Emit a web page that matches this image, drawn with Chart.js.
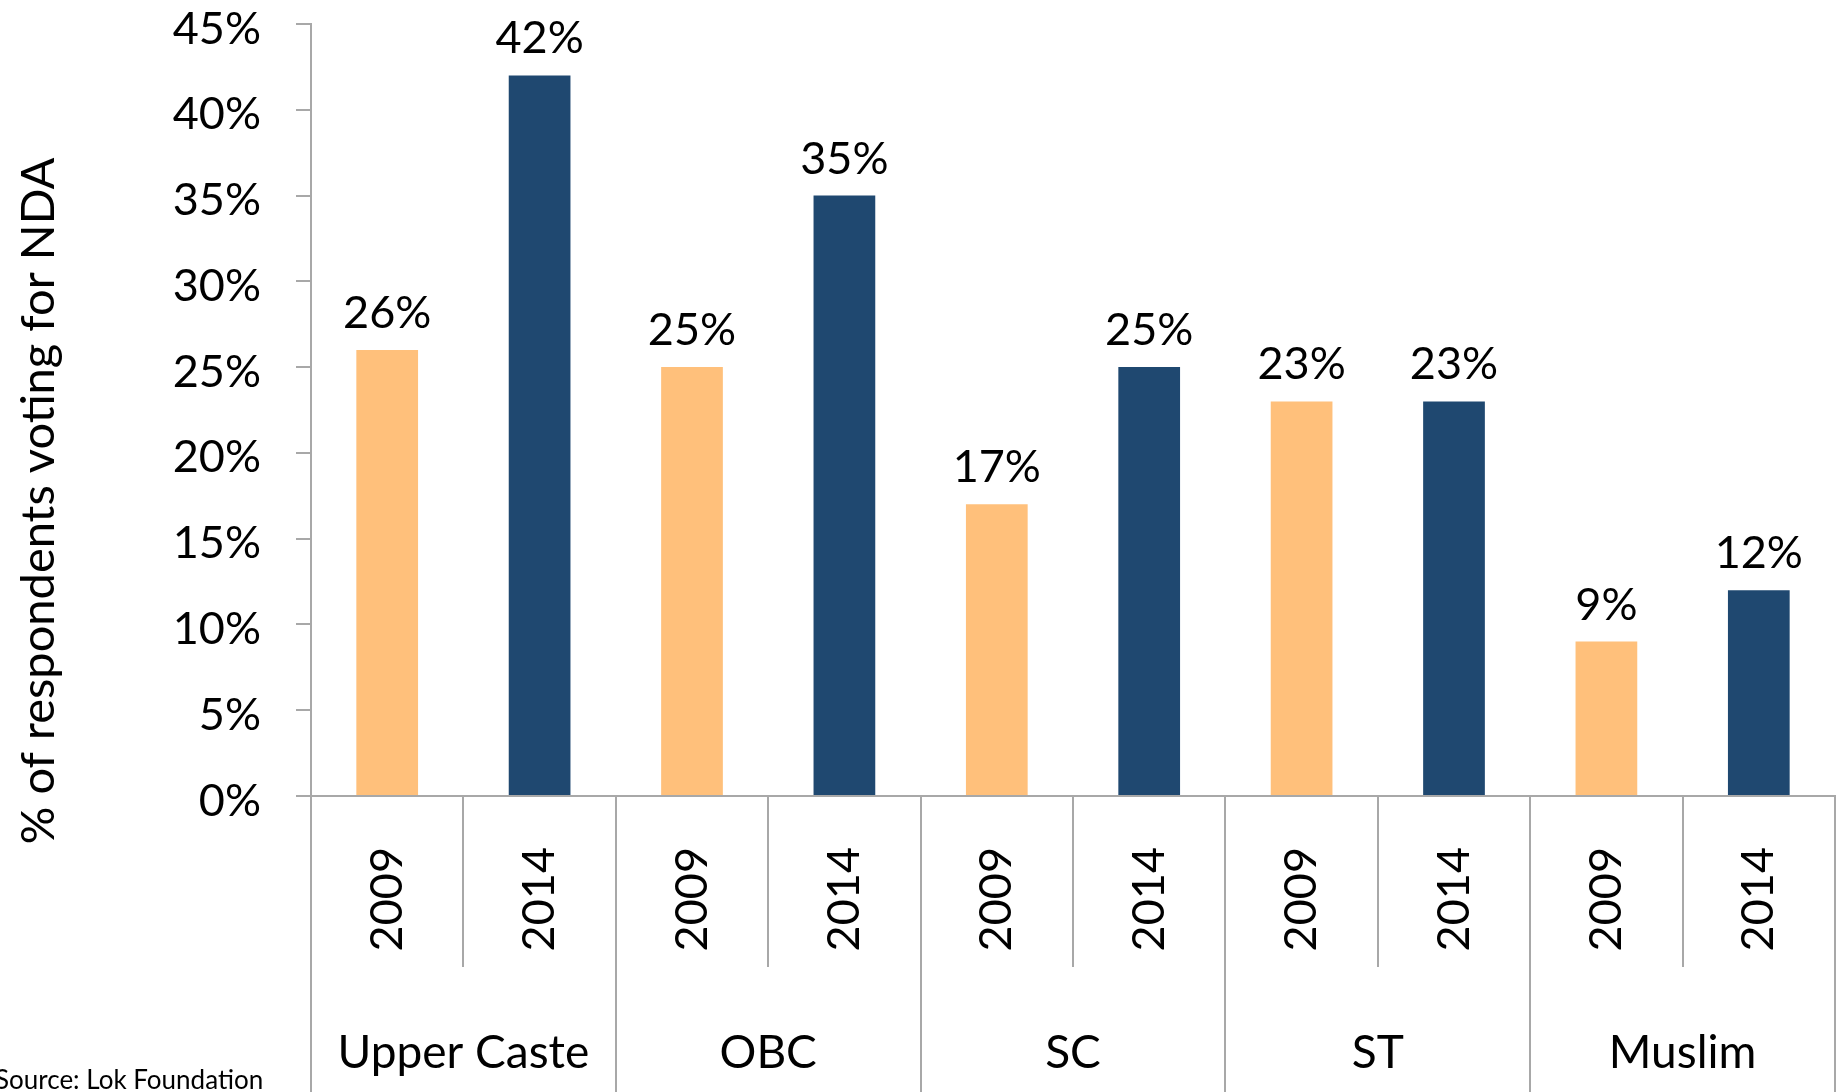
<!DOCTYPE html>
<html>
<head>
<meta charset="utf-8">
<script src="https://cdn.jsdelivr.net/npm/chart.js@4.4.0/dist/chart.umd.min.js"></script>
<style>
  html, body { margin: 0; padding: 0; background: #fff; }
  #wrap { width: 1839px; height: 1092px; }
</style>
</head>
<body>
<div id="wrap"><canvas id="nda-chart" width="1839" height="1092"></canvas></div>
<script>
const groups = ['Upper Caste', 'OBC', 'SC', 'ST', 'Muslim'];
const years = ['2009', '2014'];
const share2009 = [26, 25, 17, 23, 9];
const share2014 = [42, 35, 25, 23, 12];
const yTicks = [0, 5, 10, 15, 20, 25, 30, 35, 40, 45];

const colour2009 = '#FFC07B';
const colour2014 = '#1F4870';
const lineColour = '#A8A8A8';
const FONT = 'Lato';

// interleave the two survey years under each group
const labels = [];
const values = [];
const colours = [];
groups.forEach((g, i) => {
    labels.push(years[0], years[1]);
    values.push(share2009[i], share2014[i]);
    colours.push(colour2009, colour2014);
});

Chart.defaults.font.family = FONT;
Chart.defaults.color = '#000';

const extras = {
    id: 'extras',
    afterDraw(chart) {
        const ctx = chart.ctx;
        const x = chart.scales.x;
        const area = chart.chartArea;
        const half = (x.getPixelForValue(1) - x.getPixelForValue(0)) / 2;

        ctx.save();
        // category dividers below the axis
        ctx.strokeStyle = lineColour;
        ctx.lineWidth = 2;
        for (let i = 0; i <= labels.length; i++) {
            const px = Math.round(i < labels.length ? x.getPixelForValue(i) - half : x.getPixelForValue(i - 1) + half);
            const bottom = i % 2 === 0 ? chart.height : 967;
            ctx.beginPath();
            ctx.moveTo(px, area.bottom);
            ctx.lineTo(px, bottom);
            ctx.stroke();
        }

        // group names
        ctx.fillStyle = '#000';
        ctx.font = '46px ' + FONT;
        ctx.textAlign = 'center';
        ctx.textBaseline = 'alphabetic';
        groups.forEach((g, i) => {
            const cx = (x.getPixelForValue(2 * i) + x.getPixelForValue(2 * i + 1)) / 2;
            ctx.fillText(g, cx, 1068);
        });

        // value labels above bars
        ctx.font = '45px ' + FONT;
        const meta = chart.getDatasetMeta(0);
        meta.data.forEach((bar, i) => {
            ctx.fillText(values[i] + '%', bar.x, bar.y - 22);
        });

        // y axis title
        ctx.save();
        ctx.font = '47px ' + FONT;
        ctx.translate(54, 501);
        ctx.rotate(-Math.PI / 2);
        ctx.fillText('% of respondents voting for NDA', 0, 0);
        ctx.restore();

        // source note
        ctx.font = '26px ' + FONT;
        ctx.textAlign = 'left';
        ctx.fillText('Source: Lok Foundation', -5, 1089);
        ctx.restore();
    }
};

new Chart(document.getElementById('nda-chart').getContext('2d'), {
    type: 'bar',
    data: {
        labels: labels,
        datasets: [{
            data: values,
            backgroundColor: colours,
            barPercentage: 0.405,
            categoryPercentage: 1.0,
        }]
    },
    options: {
        responsive: false,
        animation: false,
        layout: { padding: { top: 24, right: 4, left: 0, bottom: 0 } },
        plugins: {
            legend: { display: false },
            tooltip: { enabled: false }
        },
        scales: {
            x: {
                grid: { display: false, drawTicks: false },
                border: { color: lineColour, width: 2 },
                ticks: {
                    font: { size: 45 },
                    minRotation: 90,
                    maxRotation: 90,
                    padding: 51,
                    autoSkip: false,
                },
                afterFit: function (scale) {
                    scale.height = 296;
                    scale.paddingLeft = 0;
                    scale.paddingRight = 0;
                }
            },
            y: {
                min: 0,
                max: 45,
                afterBuildTicks: function (scale) {
                    scale.ticks = yTicks.map(v => ({ value: v }));
                },
                grid: {
                    drawOnChartArea: false,
                    tickLength: 15,
                    color: lineColour,
                    lineWidth: 2,
                },
                border: { color: lineColour, width: 2 },
                ticks: {
                    font: { size: 45, lineHeight: 1 },
                    padding: 35,
                    labelOffset: 5,
                    callback: function (value) { return value + '%'; }
                },
                afterFit: function (scale) {
                    scale.width = 311;
                    scale.paddingTop = 0;
                    scale.paddingBottom = 0;
                }
            }
        }
    },
    plugins: [extras]
});
</script>
</body>
</html>
